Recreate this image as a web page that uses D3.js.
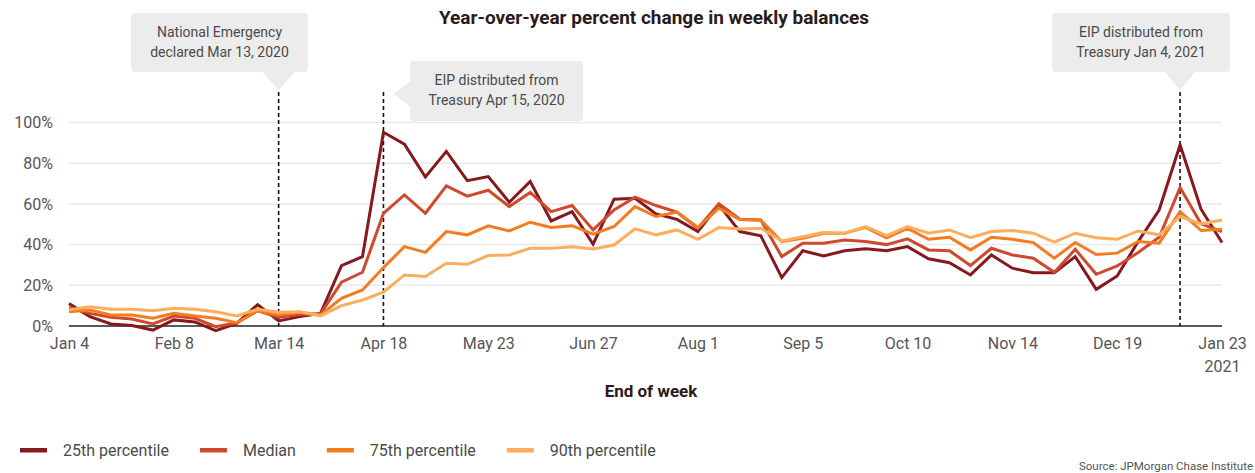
<!DOCTYPE html>
<html><head><meta charset="utf-8">
<script src="https://cdn.jsdelivr.net/npm/d3@7"></script>
<style>body{margin:0;background:#fff} svg{display:block} text{font-family:Roboto,"Noto Sans",sans-serif}</style>
</head><body><svg id="c" width="1255" height="473"></svg>
<script>
const weeks = ["2020-01-04","2020-01-11","2020-01-18","2020-01-25","2020-02-01","2020-02-08","2020-02-15","2020-02-22","2020-02-29",
"2020-03-07","2020-03-14","2020-03-21","2020-03-28","2020-04-04","2020-04-11","2020-04-18","2020-04-25","2020-05-02","2020-05-09",
"2020-05-16","2020-05-23","2020-05-30","2020-06-06","2020-06-13","2020-06-20","2020-06-27","2020-07-04","2020-07-11","2020-07-18",
"2020-07-25","2020-08-01","2020-08-08","2020-08-15","2020-08-22","2020-08-29","2020-09-05","2020-09-12","2020-09-19","2020-09-26",
"2020-10-03","2020-10-10","2020-10-17","2020-10-24","2020-10-31","2020-11-07","2020-11-14","2020-11-21","2020-11-28","2020-12-05",
"2020-12-12","2020-12-19","2020-12-26","2021-01-02","2021-01-09","2021-01-16","2021-01-23"];
const p25 = [11,4.6,1,0.2,-2,3,2,-2.3,1.3,10.5,2.5,4.6,6.2,29.7,34.1,95.2,89.4,73.2,85.8,71.4,73.4,60.8,71,51.6,56.2,40.2,62.3,62.8,55.1,
52.4,46.4,59.5,46.4,44.3,23.8,37,34.4,37,37.9,37,39,33,31.1,25.1,34.9,28.4,26.2,26.2,34.1,18,24.6,41.5,57,89,57.4,41];
const median = [9,6.2,4.3,3.4,1,4.9,3.8,-0.3,1.6,7.5,4.3,5.7,6,21.5,26.4,55.3,64.4,55.4,68.9,63.8,66.7,58.7,65.6,56.2,59.2,47.2,57,63.3,59.2,
56,48,60,52.5,52.1,34.1,40.7,40.7,42.3,41.5,40,42.8,37.4,37,29.7,38.2,34.9,33.3,26.4,37.7,25.4,29.5,36.1,43.6,68,50.2,46.4];
const p75 = [7,7.9,5.4,5.4,3.8,6.2,4.9,3.8,1.6,7.5,5.4,6.7,5.4,13.6,17.7,28.7,39,36.2,46.4,44.8,49.2,46.7,51,48.4,49.3,45.1,48.9,58.7,53.8,
56,48.4,57.9,52.3,52,41.5,43.1,45.6,45.6,48.5,43.3,48,42.6,43.6,37.4,43.6,42.6,41,33.3,41,35.1,35.8,41.5,40.7,56.2,46.9,47.6];
const p90 = [8,9.5,8.2,8.2,7.5,8.7,8.2,7,4.9,8.2,6.8,7,5,10,12.8,16.6,25.1,24.3,30.8,30.3,34.6,34.9,38.2,38.2,39,37.9,39.8,47.7,44.8,
47.2,42.6,48.4,47.7,48,41.8,43.9,45.9,45.6,48.8,44.4,48.8,45.6,47.2,43.4,46.4,46.9,45.6,41.2,45.6,43.4,42.6,46.7,44.8,53.8,50.2,52.1];
const seriesNames = ["25th percentile","Median","75th percentile","90th percentile"];
const seriesColors = ["#86191d","#cf4a2c","#f47c20","#fcae5e"];
const tickDates = ["2020-01-04","2020-02-08","2020-03-14","2020-04-18","2020-05-23","2020-06-27","2020-08-01","2020-09-05","2020-10-10","2020-11-14","2020-12-19","2021-01-23"];
const tickLabels = ["Jan 4","Feb 8","Mar 14","Apr 18","May 23","Jun 27","Aug 1","Sep 5","Oct 10","Nov 14","Dec 19","Jan 23"];
const yTicks = [0,20,40,60,80,100];
const eventDates = ["2020-03-14","2020-04-18","2021-01-09"];
const eventTexts = [["National Emergency","declared Mar 13, 2020"],["EIP distributed from","Treasury Apr 15, 2020"],["EIP distributed from","Treasury Jan 4, 2021"]];

const parse = d3.utcParse("%Y-%m-%d");
const dates = weeks.map(parse);
const svg = d3.select("#c");
const L = 69, R = 1222;
const x = d3.scaleUtc().domain([dates[0], dates[dates.length-1]]).range([L, R]);
const y = d3.scaleLinear().domain([0,100]).range([326, 122.5]);

// title
svg.append("text").attr("x",654).attr("y",24).attr("text-anchor","middle")
  .attr("font-size",19).attr("font-weight","bold").attr("fill","#2b1a1a")
  .text("Year-over-year percent change in weekly balances");

// gridlines
svg.append("g").selectAll("line").data(yTicks.filter(d=>d>0)).join("line")
  .attr("x1",L).attr("x2",R).attr("y1",d=>y(d)).attr("y2",d=>y(d))
  .attr("stroke","#e9e9e9").attr("stroke-width",1.5);

// y axis
const ya = svg.append("g").attr("transform",`translate(${L},0)`)
  .call(d3.axisLeft(y).tickValues(yTicks).tickFormat(d=>d+"%").tickSize(0).tickPadding(16));
ya.select(".domain").remove();
ya.selectAll("text").attr("font-size",16).attr("fill","#555").attr("font-family","Roboto");

// x axis
const xa = svg.append("g").attr("transform",`translate(0,${y(0)})`)
  .call(d3.axisBottom(x).tickValues(tickDates.map(parse)).tickFormat((d,i)=>tickLabels[i]).tickSize(0).tickPadding(12));
xa.select(".domain").remove();
xa.selectAll("text").attr("font-size",16).attr("fill","#555").attr("font-family","Roboto");
xa.selectAll(".tick").filter((d,i)=>i===tickLabels.length-1).append("text")
  .attr("y",46).attr("text-anchor","middle").attr("font-size",16).attr("fill","#555").attr("font-family","Roboto").text("2021");

// baseline
svg.append("line").attr("x1",L).attr("x2",R).attr("y1",y(0)).attr("y2",y(0)).attr("stroke","#222").attr("stroke-width",1.5);

// x axis title
svg.append("text").attr("x",651).attr("y",397).attr("text-anchor","middle")
  .attr("font-size",17).attr("font-weight","bold").attr("fill","#2b1a1a").text("End of week");

// event dashed lines
svg.append("g").selectAll("line").data(eventDates).join("line")
  .attr("x1",d=>x(parse(d))).attr("x2",d=>x(parse(d))).attr("y1",92).attr("y2",y(0))
  .attr("stroke","#111").attr("stroke-width",1.6).attr("stroke-dasharray","4,3");

// lines
const series = [p25, median, p75, p90];
const line = d3.line().x((d,i)=>x(dates[i])).y(d=>y(d));
svg.append("g").selectAll("path").data(series).join("path")
  .attr("d",line).attr("fill","none").attr("stroke",(d,i)=>seriesColors[i]).attr("stroke-width",3);

// callouts
const boxFill = "#ececec";
function callout(bx, by, bw, bh, tri, lines){
  const g = svg.append("g");
  g.append("path").attr("d", d3.line()(tri)+"Z").attr("fill",boxFill);
  g.append("rect").attr("x",bx).attr("y",by).attr("width",bw).attr("height",bh).attr("rx",4).attr("fill",boxFill);
  lines.forEach((t,i)=>g.append("text").attr("x",bx+bw/2).attr("y",by+24+i*19.5).attr("text-anchor","middle")
    .attr("font-size",14).attr("fill","#4a4a4a").text(t));
}
const e0 = x(parse(eventDates[0])), e1 = x(parse(eventDates[1])), e2 = x(parse(eventDates[2]));
callout(131, 13, 177, 59, [[e0-17,71],[e0+17,71],[e0,90]], eventTexts[0]);
callout(410, 61, 173, 60, [[411,81],[411,107],[e1+10,94]], eventTexts[1]);
callout(1052, 13, 178, 59, [[e2-16,71],[e2+16,71],[e2,90]], eventTexts[2]);

// legend
const lg = svg.append("g");
let lx = 20;
seriesNames.forEach((n,i)=>{
  lg.append("rect").attr("x",lx).attr("y",448).attr("width",27).attr("height",4.5).attr("fill",seriesColors[i]);
  const t = lg.append("text").attr("x",lx+43).attr("y",456).attr("font-size",16).attr("fill","#4a4a4a").text(n);
  lx = lx + 43 + t.node().getComputedTextLength() + 31;
});

// source
svg.append("text").attr("x",1253).attr("y",470).attr("text-anchor","end").attr("font-size",11.5).attr("fill","#555")
  .text("Source: JPMorgan Chase Institute");
</script></body></html>
